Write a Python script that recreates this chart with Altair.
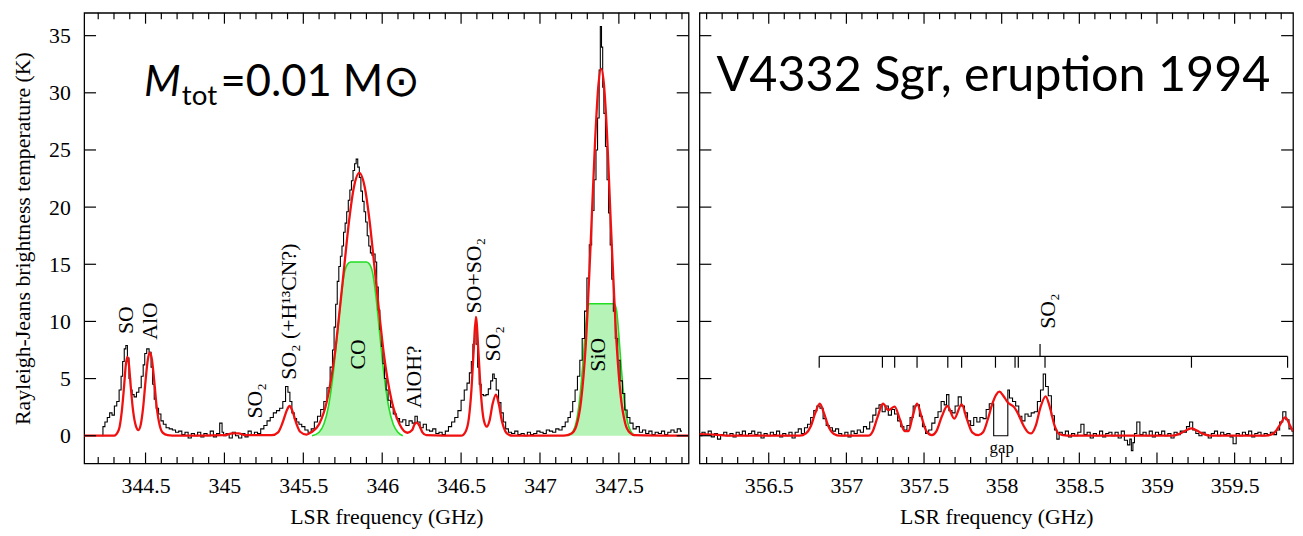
import altair as alt
import pandas as pd
import numpy as np

# ---------------- data: left panel (344-348 GHz) ----------------
obs_f_L = [344.225, 344.235, 344.25, 344.265, 344.28, 344.295, 344.31, 344.325, 344.34, 344.35,
           344.36, 344.37, 344.38, 344.39, 344.40, 344.41, 344.42, 344.435, 344.45, 344.465,
           344.48, 344.49, 344.50, 344.515, 344.53, 344.54, 344.55, 344.56, 344.575, 344.59,
           344.605, 344.62, 344.64, 344.66, 344.68, 344.70, 344.72, 344.74, 344.76, 344.78,
           344.80, 344.82, 344.84, 344.86, 344.88, 344.90, 344.92, 344.94, 344.96, 344.98,
           344.99, 345.00, 345.02, 345.04, 345.06, 345.08, 345.10, 345.12, 345.14, 345.16,
           345.18, 345.20, 345.22, 345.24, 345.26, 345.28, 345.30, 345.32, 345.34, 345.36,
           345.38, 345.395, 345.41, 345.42, 345.435, 345.45, 345.465, 345.48, 345.50, 345.52,
           345.54, 345.56, 345.58, 345.60, 345.62, 345.64, 345.66, 345.68, 345.69, 345.70,
           345.71, 345.72, 345.73, 345.74, 345.75, 345.76, 345.77, 345.78, 345.79, 345.80,
           345.81, 345.82, 345.83, 345.84, 345.85, 345.86, 345.87, 345.88, 345.89, 345.90,
           345.91, 345.92, 345.93, 345.94, 345.95, 345.96, 345.97, 345.98, 345.99, 346.00,
           346.01, 346.02, 346.03, 346.045, 346.06, 346.08, 346.10, 346.12, 346.14, 346.16,
           346.18, 346.20, 346.215, 346.23, 346.25, 346.27, 346.29, 346.31, 346.33, 346.35,
           346.37, 346.39, 346.41, 346.43, 346.45, 346.47, 346.49, 346.51, 346.53, 346.545,
           346.56, 346.57, 346.58, 346.59, 346.60, 346.61, 346.62, 346.635, 346.65, 346.665,
           346.68, 346.695, 346.705, 346.715, 346.73, 346.745, 346.76, 346.775, 346.79, 346.81,
           346.83, 346.85, 346.87, 346.89, 346.91, 346.93, 346.95, 346.97, 346.99, 347.01,
           347.03, 347.05, 347.07, 347.09, 347.11, 347.13, 347.15, 347.17, 347.185, 347.20,
           347.215, 347.23, 347.245, 347.26, 347.275, 347.29, 347.305, 347.32, 347.335, 347.35,
           347.36, 347.37, 347.38, 347.385, 347.395, 347.40, 347.41, 347.42, 347.43, 347.44,
           347.45, 347.46, 347.47, 347.485, 347.50, 347.515, 347.53, 347.545, 347.56, 347.58,
           347.60, 347.62, 347.64, 347.66, 347.68, 347.70, 347.72, 347.74, 347.76, 347.78,
           347.80, 347.82, 347.84, 347.86, 347.88, 347.90]
obs_T_L = [0.0, 0.8, 1.2, 1.6, 2.0, 1.8, 2.6, 3.0, 4.0, 5.2,
           6.5, 7.6, 7.9, 6.8, 5.0, 4.0, 3.6, 3.4, 3.8, 4.2,
           5.2, 6.2, 7.2, 7.6, 7.3, 6.0, 4.5, 3.2, 2.4, 1.9,
           1.3, 1.0, 0.7, 0.6, 0.5, 0.3, 0.4, 0.1, 0.3, -0.2,
           0.2, 0.0, 0.3, -0.1, 0.2, 0.0, 0.4, -0.1, 0.2, 1.1,
           0.3, 0.0, 0.2, -0.2, 0.3, 0.0, -0.2, 0.2, -0.1, 0.4,
           0.1, 0.3, 0.2, 0.6, 0.9, 1.3, 1.6, 2.0, 2.2, 2.4,
           3.0, 4.3, 3.8, 3.0, 2.0, 1.5, 1.2, 1.0, 0.8, 0.5,
           0.3, 0.6, 1.2, 1.7, 2.3, 3.0, 4.2, 6.0, 7.5, 9.5,
           11.5, 13.5, 14.8, 15.7, 16.6, 17.8, 18.6, 19.6, 20.6, 21.5,
           22.3, 23.2, 23.8, 24.2, 23.5, 22.6, 21.4, 20.5, 19.6, 18.7,
           17.5, 16.6, 16.0, 15.8, 15.9, 15.2, 13.0, 11.0, 9.3, 7.8,
           6.3, 5.0, 4.0, 3.1, 2.5, 1.9, 1.5, 1.2, 1.4, 0.9,
           1.3, 1.1, 1.7, 1.2, 0.7, 1.0, 0.5, 0.4, 0.6, 0.2,
           0.3, 0.1, 0.4, 0.8, 1.2, 1.6, 2.2, 3.1, 4.0, 4.6,
           5.5, 6.5, 8.0, 9.6, 8.0, 6.0, 4.5, 3.6, 3.5, 3.6,
           4.1, 4.8, 5.4, 5.0, 4.0, 2.9, 2.0, 1.2, 0.6, 0.3,
           0.2, 0.4, 0.1, 0.2, 0.0, 0.3, 0.1, 0.2, 0.4, 0.3,
           0.2, 0.5, 0.4, 0.3, 0.6, 0.5, 0.8, 1.2, 1.6, 2.1,
           3.0, 4.0, 5.2, 6.6, 8.5, 10.9, 13.8, 16.7, 19.7, 22.4,
           25.0, 27.8, 32.0, 35.8, 34.0, 30.5, 28.2, 25.3, 22.4, 19.5,
           16.7, 13.7, 10.9, 8.5, 6.6, 4.8, 3.7, 2.25, 1.6, 1.1,
           0.6, 0.8, 0.3, 0.5, 0.2, 0.4, 0.1, 0.3, 0.2, 0.4,
           0.1, 0.3, 0.5, 0.3, 0.6, 0.4]

mod_f_L = [344.111, 344.30, 344.33, 344.35, 344.365, 344.375, 344.385, 344.395, 344.405, 344.42,
           344.44, 344.455, 344.47, 344.485, 344.50, 344.515, 344.527, 344.54, 344.555, 344.57,
           344.59, 344.61, 344.64, 344.70, 345.00, 345.05, 345.09, 345.13, 345.30, 345.34,
           345.37, 345.395, 345.413, 345.43, 345.455, 345.48, 345.52, 345.55, 345.60, 345.65,
           345.70, 345.73, 345.76, 345.79, 345.82, 345.855, 345.89, 345.92, 345.95, 345.98,
           346.01, 346.06, 346.11, 346.16, 346.19, 346.205, 346.22, 346.235, 346.255, 346.28,
           346.50, 346.53, 346.55, 346.565, 346.58, 346.594, 346.61, 346.625, 346.645, 346.663,
           346.68, 346.70, 346.721, 346.74, 346.76, 346.78, 346.80, 346.83, 347.15, 347.20,
           347.23, 347.26, 347.29, 347.32, 347.35, 347.37, 347.388, 347.405, 347.42, 347.45,
           347.48, 347.51, 347.54, 347.57, 347.60, 347.942]
mod_T_L = [0.0, 0.0, 0.5, 2.2, 4.5, 6.2, 6.9, 6.2, 4.5, 2.3,
           0.8, 0.5, 1.0, 2.5, 4.8, 6.7, 7.3, 6.7, 4.8, 2.6,
           0.9, 0.25, 0.05, 0.0, 0.05, 0.2, 0.2, 0.05, 0.05, 0.3,
           1.2, 2.2, 2.6, 2.2, 1.1, 0.35, 0.1, 0.3, 1.0, 3.05,
           7.2, 10.9, 14.9, 18.8, 21.7, 23.0, 21.7, 18.8, 14.9, 10.9,
           7.2, 3.05, 1.0, 0.26, 0.5, 1.0, 1.15, 0.9, 0.3, 0.05,
           0.0, 0.4, 1.6, 3.9, 7.5, 10.4, 7.3, 3.8, 1.3, 0.8,
           1.3, 2.8, 3.6, 2.7, 1.2, 0.4, 0.1, 0.0, 0.0, 0.2,
           0.84, 3.0, 7.9, 16.4, 26.0, 30.6, 32.1, 30.8, 27.7, 18.3,
           9.4, 3.7, 1.1, 0.26, 0.05, 0.0]

co_f = [345.555, 345.60, 345.63, 345.66, 345.69, 345.715, 345.74, 345.76, 345.78, 345.80,
        345.90, 345.92, 345.94, 345.96, 345.985, 346.01, 346.04, 346.07, 346.10, 346.13]
co_T = [0.0, 0.3, 1.0, 2.6, 5.5, 8.8, 12.2, 14.2, 15.0, 15.2,
        15.2, 15.0, 14.2, 12.2, 8.8, 5.5, 2.6, 1.0, 0.3, 0.0]
sio_f = [347.18, 347.21, 347.23, 347.25, 347.27, 347.285, 347.30, 347.315, 347.47, 347.485,
         347.50, 347.515, 347.535, 347.555, 347.575, 347.60]
sio_T = [0.0, 0.4, 1.2, 3.0, 6.0, 8.8, 11.0, 11.55, 11.55, 11.0,
         8.8, 6.0, 3.0, 1.2, 0.4, 0.0]

lab_text_L = ["SO", "AlO", "SO₂", "SO₂ (+H¹³CN?)", "CO", "AlOH?", "SO+SO₂", "SO₂", "SiO"]
lab_f_L = [344.378, 344.531, 345.196, 345.412, 345.848, 346.205, 346.58, 346.705, 347.371]
lab_T_L = [8.9, 8.4, 1.5, 4.9, 5.8, 2.4, 10.7, 6.5, 5.6]

# ---------------- data: right panel (356-360 GHz) ----------------
obs_f_R = [356.06, 356.08, 356.10, 356.12, 356.14, 356.16, 356.18, 356.20, 356.22, 356.24,
           356.26, 356.28, 356.30, 356.32, 356.34, 356.36, 356.38, 356.40, 356.42, 356.44,
           356.46, 356.48, 356.50, 356.52, 356.54, 356.56, 356.58, 356.60, 356.62, 356.64,
           356.66, 356.68, 356.70, 356.72, 356.74, 356.76, 356.78, 356.80, 356.82, 356.84,
           356.86, 356.88, 356.90, 356.92, 356.94, 356.96, 356.98, 357.00, 357.02, 357.04,
           357.06, 357.08, 357.10, 357.12, 357.14, 357.16, 357.18, 357.20, 357.22, 357.24,
           357.26, 357.28, 357.30, 357.32, 357.34, 357.36, 357.38, 357.40, 357.42, 357.44,
           357.46, 357.48, 357.50, 357.52, 357.54, 357.56, 357.58, 357.60, 357.62, 357.64,
           357.65, 357.67, 357.69, 357.71, 357.73, 357.75, 357.77, 357.79, 357.81, 357.83,
           357.85, 357.87, 357.89, 357.91, 357.93, 357.948, 357.949, 358.039, 358.04, 358.06,
           358.08, 358.10, 358.12, 358.14, 358.16, 358.18, 358.20, 358.22, 358.24, 358.26,
           358.275, 358.29, 358.31, 358.33, 358.35, 358.36, 358.38, 358.40, 358.42, 358.44,
           358.46, 358.48, 358.50, 358.52, 358.54, 358.56, 358.58, 358.60, 358.62, 358.64,
           358.66, 358.68, 358.70, 358.72, 358.74, 358.76, 358.78, 358.80, 358.82, 358.83,
           358.84, 358.85, 358.86, 358.88, 358.90, 358.92, 358.94, 358.96, 358.98, 359.00,
           359.02, 359.04, 359.06, 359.08, 359.10, 359.12, 359.14, 359.16, 359.18, 359.20,
           359.22, 359.24, 359.26, 359.28, 359.30, 359.32, 359.34, 359.36, 359.38, 359.40,
           359.42, 359.44, 359.46, 359.48, 359.50, 359.52, 359.54, 359.56, 359.58, 359.60,
           359.62, 359.64, 359.66, 359.68, 359.70, 359.72, 359.74, 359.76, 359.78, 359.80,
           359.82, 359.84, 359.86, 359.88]
obs_T_R = [0.0, 0.3, 0.1, 0.4, -0.1, 0.2, -0.3, 0.1, 0.3, 0.0,
           0.2, -0.1, 0.3, 0.1, 0.4, 0.0, 0.2, 0.4, 0.1, 0.3,
           -0.2, 0.2, 0.0, 0.3, 0.1, 0.4, -0.1, 0.2, 0.0, 0.3,
           -0.2, 0.3, 0.6, 0.2, 0.7, 1.0, 1.6, 2.2, 2.6, 2.4,
           1.5, 0.9, 0.7, 0.4, 0.6, 0.2, 0.0, 0.3, -0.1, 0.4,
           0.2, 0.5, 0.3, 0.8, 0.6, 1.2, 1.8, 2.4, 2.7, 2.1,
           2.6, 1.8, 2.3, 1.9, 1.3, 0.8, 0.5, 0.9, 1.6, 2.6,
           2.7, 1.7, 0.8, 0.2, 0.5, 1.1, 1.6, 2.1, 3.0, 2.7,
           3.6, 2.2, 2.0, 2.6, 3.4, 2.6, 2.0, 1.3, 0.9, 1.6,
           1.2, 1.6, 1.5, 2.3, 2.8, 2.8, 0.0, 0.0, 4.0, 3.3,
           3.0, 2.6, 1.7, 1.3, 1.9, 1.7, 2.0, 2.1, 3.0, 4.0,
           5.4, 4.3, 3.5, 1.75, 0.5, -0.3, 0.3, 0.1, 0.4, -0.1,
           0.2, 0.0, 0.3, 1.0, 0.1, 0.3, -0.2, 0.2, 0.0, 0.4,
           -0.1, 0.2, 0.3, 0.0, 0.3, -0.2, 0.4, -0.4, -0.8, -0.3,
           -1.3, -0.6, 0.2, 1.2, 0.1, 0.3, 0.0, 0.4, -0.1, 0.3,
           0.1, 0.4, 0.0, 0.2, -0.2, 0.3, 0.1, 0.4, 0.3, 0.8,
           1.2, 0.5, 0.2, 0.0, 0.3, 0.1, -0.2, 0.2, 0.4, 0.0,
           0.3, 0.1, 0.2, -0.1, -0.7, 0.2, 0.0, 0.3, 0.1, 0.4,
           -0.1, 0.2, 0.3, 0.0, 0.2, 0.1, 0.3, 0.1, 0.5, 1.2,
           2.1, 1.4, 0.6, 0.4]

mod_f_R = [356.054, 356.15, 356.25, 356.70, 356.74, 356.77, 356.80, 356.829, 356.855, 356.885,
           356.92, 356.96, 357.14, 357.17, 357.20, 357.236, 357.27, 357.311, 357.345, 357.375,
           357.40, 357.425, 357.455, 357.485, 357.515, 357.55, 357.58, 357.615, 357.65, 357.695,
           357.742, 357.775, 357.81, 357.85, 357.88, 357.91, 357.94, 357.965, 357.986, 358.01,
           358.04, 358.08, 358.11, 358.14, 358.17, 358.19, 358.22, 358.25, 358.283, 358.31,
           358.34, 358.37, 358.42, 359.10, 359.15, 359.222, 359.29, 359.35, 359.70, 359.75,
           359.79, 359.826, 359.86, 359.876]
mod_T_R = [0.15, 0.1, 0.0, 0.0, 0.2, 0.8, 2.0, 2.8, 2.0, 0.8,
           0.15, 0.0, 0.0, 0.4, 1.6, 2.8, 2.25, 2.55, 1.4, 0.4,
           0.4, 1.6, 2.8, 1.6, 0.4, 0.05, 0.4, 1.7, 2.6, 1.5,
           2.75, 1.5, 0.3, 0.05, 0.3, 1.4, 2.8, 3.6, 3.85, 3.5,
           2.9, 2.5, 1.8, 0.9, 0.3, 0.2, 0.9, 2.5, 3.45, 2.5,
           0.9, 0.15, 0.0, 0.0, 0.2, 0.65, 0.2, 0.0, 0.0, 0.2,
           0.9, 1.6, 0.8, 0.4]

so2_comb_f = [356.825, 357.232, 357.311, 357.455, 357.653, 357.742, 357.960, 358.086, 358.107,
              358.279, 359.222, 359.841]
so2_comb_top = 6.95
so2_comb_bottom = 5.95
so2_center_f = 358.247
so2_center_top = 8.03

lab_text_R = ["SO₂"]
lab_f_R = [358.296]
lab_T_R = [9.35]

# axis tick values
major_L = [344.5, 345.0, 345.5, 346.0, 346.5, 347.0, 347.5]
major_R = [356.5, 357.0, 357.5, 358.0, 358.5, 359.0, 359.5]
minor_L = [round(v, 1) for v in np.arange(344.2, 347.95, 0.1)]
minor_R = [round(v, 1) for v in np.arange(356.1, 359.9, 0.1)]
y_ticks = [0, 5, 10, 15, 20, 25, 30, 35]

# ---------------- geometry ----------------
XL = [344.111, 347.942]
XR = [356.054, 359.876]
YD = [-2.42, 37.0]
WL, WR, H = 611, 600, 455.5
kpp = (YD[1] - YD[0]) / H          # K per pixel
MAJ, MIN_, YT = 11 * kpp, 6.5 * kpp, 12

RED = "#f01010"
SERIF = "Liberation Serif"


def ticks_layers(xdom, width, major, minor, xs):
    gpp = (xdom[1] - xdom[0]) / width
    rows = []
    for v in major:
        rows.append(dict(x=v, x2=v, y=YD[0], y2=YD[0] + MAJ))
        rows.append(dict(x=v, x2=v, y=YD[1], y2=YD[1] - MAJ))
    for v in minor:
        if any(abs(v - m) < 1e-6 for m in major):
            continue
        rows.append(dict(x=v, x2=v, y=YD[0], y2=YD[0] + MIN_))
        rows.append(dict(x=v, x2=v, y=YD[1], y2=YD[1] - MIN_))
    for v in y_ticks:
        rows.append(dict(x=xdom[0], x2=xdom[0] + YT * gpp, y=v, y2=v))
        rows.append(dict(x=xdom[1], x2=xdom[1] - YT * gpp, y=v, y2=v))
    df = pd.DataFrame(rows)
    ys = alt.Scale(domain=YD, nice=False, zero=False)
    return alt.Chart(df).mark_rule(color="black", strokeWidth=1.2).encode(
        x=alt.X("x:Q", scale=xs), x2="x2:Q",
        y=alt.Y("y:Q", scale=ys), y2="y2:Q")


def build_panel(xdom, width, obs_f, obs_T, mod_f, mod_T, fills, labels, major, minor, left):
    xs = alt.Scale(domain=xdom, nice=False, zero=False)
    ys = alt.Scale(domain=YD, nice=False, zero=False)
    xaxis = alt.Axis(values=major, format=".1~f", ticks=False, domain=False, grid=False,
                     labelPadding=12, titlePadding=11, title="LSR frequency (GHz)")
    if left:
        yaxis = alt.Axis(values=y_ticks, ticks=False, domain=False, grid=False,
                         labelPadding=14, titlePadding=14,
                         title="Rayleigh-Jeans brightness temperature (K)")
    else:
        yaxis = None
    layers = []
    for ff, tt in fills:
        d = pd.DataFrame({"f": ff, "T": tt})
        layers.append(alt.Chart(d).mark_area(interpolate="monotone", color="#b6f3b6", opacity=1,
                                             line={"color": "#22dd22", "strokeWidth": 1.6}).encode(
            x=alt.X("f:Q", scale=xs, axis=xaxis), y=alt.Y("T:Q", scale=ys, axis=yaxis),
            y2=alt.datum(0)))
    dob = pd.DataFrame({"f": obs_f, "T": obs_T})
    layers.append(alt.Chart(dob).mark_line(interpolate="step", color="black", strokeWidth=1.1,
                                           clip=True).encode(
        x=alt.X("f:Q", scale=xs, axis=xaxis), y=alt.Y("T:Q", scale=ys, axis=yaxis)))
    dmo = pd.DataFrame({"f": mod_f, "T": mod_T})
    layers.append(alt.Chart(dmo).mark_line(interpolate="monotone", color=RED, strokeWidth=2.3,
                                           clip=True).encode(
        x=alt.X("f:Q", scale=xs, axis=xaxis), y=alt.Y("T:Q", scale=ys, axis=yaxis)))
    lt, lf, lT = labels
    dl = pd.DataFrame({"f": lf, "T": lT, "t": lt})
    layers.append(alt.Chart(dl).mark_text(angle=270, align="left", baseline="middle",
                                          font=SERIF, fontSize=22, color="black").encode(
        x=alt.X("f:Q", scale=xs), y=alt.Y("T:Q", scale=ys), text="t:N"))
    layers.append(ticks_layers(xdom, width, major, minor, xs))
    return layers, xs, ys


layL, xsL, ysL = build_panel(XL, WL, obs_f_L, obs_T_L, mod_f_L, mod_T_L,
                             [(co_f, co_T), (sio_f, sio_T)],
                             (lab_text_L, lab_f_L, lab_T_L), major_L, minor_L, True)

# big mass annotation (three pieces: italic M, subscript, rest)
mass = pd.DataFrame({"f": [344.49], "T": [29.76], "t": ["M"]})
layL.append(alt.Chart(mass).mark_text(align="left", baseline="alphabetic", font="Lato",
                                      fontStyle="italic", fontSize=43, color="black").encode(
    x=alt.X("f:Q", scale=xsL), y=alt.Y("T:Q", scale=ysL), text="t:N"))
sub = pd.DataFrame({"f": [344.73], "T": [28.9], "t": ["tot"]})
layL.append(alt.Chart(sub).mark_text(align="left", baseline="alphabetic", font="Lato",
                                     fontSize=28, color="black").encode(
    x=alt.X("f:Q", scale=xsL), y=alt.Y("T:Q", scale=ysL), text="t:N"))
rest = pd.DataFrame({"f": [344.975], "T": [29.76], "t": ["=0.01 M⊙"]})
layL.append(alt.Chart(rest).mark_text(align="left", baseline="alphabetic", font="Lato",
                                      fontSize=44, color="black").encode(
    x=alt.X("f:Q", scale=xsL), y=alt.Y("T:Q", scale=ysL), text="t:N"))

left = alt.layer(*layL).properties(width=WL, height=H)

layR, xsR, ysR = build_panel(XR, WR, obs_f_R, obs_T_R, mod_f_R, mod_T_R, [],
                             (lab_text_R, lab_f_R, lab_T_R), major_R, minor_R, False)

comb_h = pd.DataFrame({"x": [min(so2_comb_f)], "x2": [max(so2_comb_f)], "y": [so2_comb_top]})
layR.append(alt.Chart(comb_h).mark_rule(color="black", strokeWidth=1.2).encode(
    x=alt.X("x:Q", scale=xsR), x2="x2:Q", y=alt.Y("y:Q", scale=ysR)))
comb_v = pd.DataFrame({"x": so2_comb_f + [so2_center_f],
                       "y": [so2_comb_bottom] * len(so2_comb_f) + [so2_comb_top],
                       "y2": [so2_comb_top] * len(so2_comb_f) + [so2_center_top]})
layR.append(alt.Chart(comb_v).mark_rule(color="black", strokeWidth=1.2).encode(
    x=alt.X("x:Q", scale=xsR), y=alt.Y("y:Q", scale=ysR), y2="y2:Q"))
gap = pd.DataFrame({"f": [358.0], "T": [-1.04], "t": ["gap"]})
layR.append(alt.Chart(gap).mark_text(align="center", baseline="middle", font=SERIF,
                                     fontSize=17, color="black").encode(
    x=alt.X("f:Q", scale=xsR), y=alt.Y("T:Q", scale=ysR), text="t:N"))
star = pd.DataFrame({"f": [356.164], "T": [30.2], "t": ["V4332 Sgr, eruption 1994"]})
layR.append(alt.Chart(star).mark_text(align="left", baseline="alphabetic", font="Lato",
                                      fontSize=49, color="black").encode(
    x=alt.X("f:Q", scale=xsR), y=alt.Y("T:Q", scale=ysR), text="t:N"))

right = alt.layer(*layR).properties(width=WR, height=H)

chart = alt.hconcat(left, right, spacing=7).properties(
    padding={"left": 3, "top": 0, "right": 0, "bottom": 0}
).configure_view(stroke="black", strokeWidth=1.3).configure_axis(
    labelFont=SERIF, labelFontSize=22, labelColor="black",
    titleFont=SERIF, titleFontSize=22, titleFontWeight="normal", titleColor="black")

chart.save("out.html", embed_options={"renderer": "svg", "actions": False})
